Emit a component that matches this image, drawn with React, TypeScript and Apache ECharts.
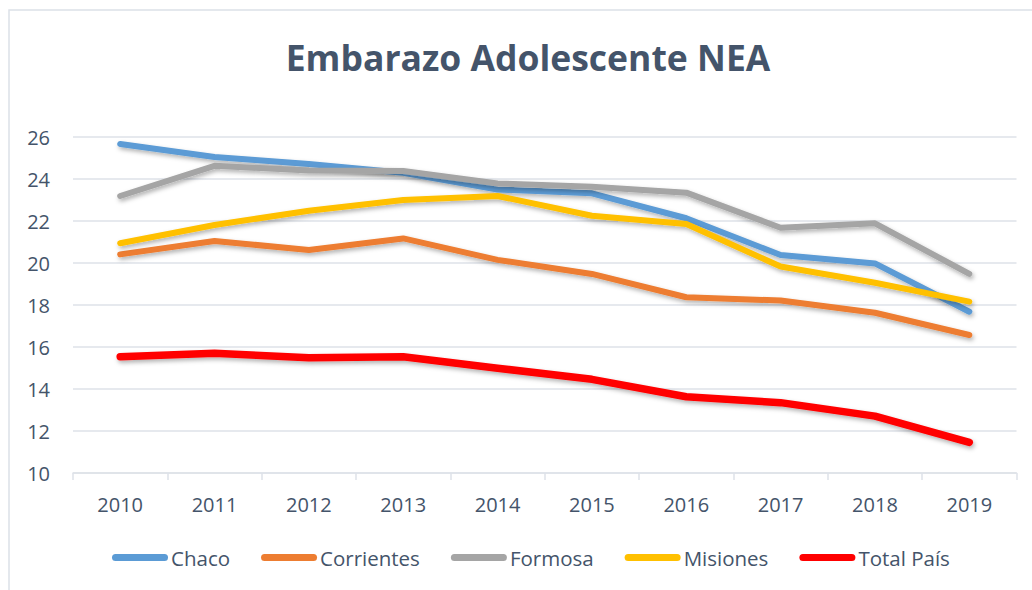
import React, { useEffect, useRef } from "react";
import * as echarts from "echarts";

const years = ["2010", "2011", "2012", "2013", "2014", "2015", "2016", "2017", "2018", "2019"];
const chaco = [25.67, 25.05, 24.71, 24.3, 23.5, 23.32, 22.13, 20.38, 19.98, 17.68];
const corrientes = [20.41, 21.05, 20.62, 21.17, 20.15, 19.48, 18.37, 18.21, 17.63, 16.57];
const formosa = [23.19, 24.63, 24.4, 24.38, 23.79, 23.63, 23.35, 21.68, 21.89, 19.48];
const misiones = [20.94, 21.81, 22.49, 23.0, 23.19, 22.25, 21.86, 19.83, 19.06, 18.16];
const totalPais = [15.54, 15.7, 15.49, 15.54, 14.99, 14.46, 13.63, 13.35, 12.71, 11.46];

const seriesNames = ["Chaco", "Corrientes", "Formosa", "Misiones", "Total País"];
const seriesColors = ["#5B9BD5", "#ED7D31", "#A5A5A5", "#FFC000", "#FF0000"];

const TEXT = "#44546A";
const GRID = "#DEE2E8";
const FONT = "'Open Sans', 'Noto Sans', sans-serif";

export default function App() {
  const ref = useRef<HTMLDivElement>(null);
  useEffect(() => {
    if (!ref.current) return;
    const chart = echarts.init(ref.current, undefined, { renderer: "svg" });
    const datasets = [chaco, corrientes, formosa, misiones, totalPais];
    const capsule = "path://M3.5,0 H52.5 A3.5,3.5 0 0 1 52.5,7 H3.5 A3.5,3.5 0 0 1 3.5,0 Z";
    chart.setOption({
      animation: false,
      backgroundColor: "#FFFFFF",
      textStyle: { fontFamily: FONT },
      graphic: [
        {
          type: "rect",
          shape: { x: 9, y: 10, width: 1100, height: 700 },
          style: { fill: "none", stroke: "#DCE1E8", lineWidth: 1.5 },
          silent: true,
        },
        {
          type: "text",
          x: 528,
          y: 57,
          style: {
            text: "Embarazo Adolescente NEA",
            textAlign: "center",
            textVerticalAlign: "middle",
            fontFamily: FONT,
            fontWeight: "bold",
            fontSize: 35.5,
            fill: TEXT,
          },
        },
      ],
      legend: {
        data: seriesNames.map((n) => ({ name: n, icon: capsule })),
        left: 107,
        top: 542,
        itemWidth: 56,
        itemHeight: 7,
        itemGap: 31,
        textStyle: { color: TEXT, fontSize: 20.5, fontFamily: FONT, padding: [0, 0, 0, -2] },
      },
      grid: { left: 73, right: 15.5, top: 137, bottom: 117, containLabel: false },
      xAxis: {
        type: "category",
        data: years,
        boundaryGap: true,
        axisLine: { show: true, lineStyle: { color: GRID, width: 1.5 } },
        axisTick: { show: true, length: 7, lineStyle: { color: GRID, width: 1.5 } },
        axisLabel: { color: TEXT, fontSize: 20, fontFamily: FONT, margin: 21 },
      },
      yAxis: {
        type: "value",
        min: 10,
        max: 26,
        interval: 2,
        axisLine: { show: false },
        axisTick: { show: false },
        splitLine: { lineStyle: { color: GRID, width: 1.5 } },
        axisLabel: { color: TEXT, fontSize: 20, fontFamily: FONT, margin: 23 },
      },
      series: datasets.map((d, i) => ({
        name: seriesNames[i],
        type: "line",
        data: d,
        symbol: "none",
        smooth: false,
        color: seriesColors[i],
        lineStyle: {
          color: seriesColors[i],
          width: i === 4 ? 7.5 : 6,
          cap: "round",
          join: "round",
          shadowColor: "rgba(0,0,0,0.3)",
          shadowBlur: 4,
          shadowOffsetX: 1.5,
          shadowOffsetY: 2.5,
        },
        itemStyle: { color: seriesColors[i] },
      })),
    });
    return () => chart.dispose();
  }, []);
  return (
    <div
      ref={ref}
      style={{ position: "fixed", left: 0, top: 0, width: 1032, height: 590 }}
    />
  );
}
